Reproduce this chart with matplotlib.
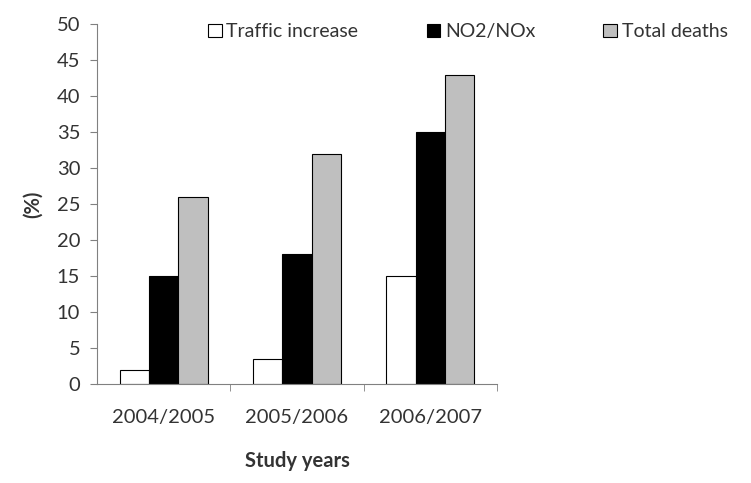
import matplotlib.pyplot as plt
import numpy as np

years = ["2004/2005", "2005/2006", "2006/2007"]
traffic = [2, 3.5, 15]
no2 = [15, 18, 35]
deaths = [26, 32, 43]

plt.rcParams['font.family'] = ['Lato', 'DejaVu Sans']
txt = "#333333"
fs = 14.5

fig = plt.figure(figsize=(7.51, 4.83), dpi=100)
ax = fig.add_axes([0.129, 0.205, 0.533, 0.745])

x = np.arange(len(years))
w = 0.22
ax.bar(x - w, traffic, w, color="white", edgecolor="black", linewidth=0.8, label="Traffic increase")
ax.bar(x, no2, w, color="black", edgecolor="black", linewidth=0.8, label="NO2/NOx")
ax.bar(x + w, deaths, w, color="#bfbfbf", edgecolor="black", linewidth=0.8, label="Total deaths")

ax.set_xlim(-0.5, 2.5)
ax.set_ylim(0, 50)
ax.set_yticks(range(0, 51, 5))
ax.set_xticks(x)
ax.set_xticklabels(years)
ax.set_xticks([0.5, 1.5, 2.5], minor=True)
ax.tick_params(axis="x", which="major", length=0, pad=18, labelsize=fs, labelcolor=txt)
ax.tick_params(axis="x", which="minor", length=5, color="#808080", direction="out")
ax.tick_params(axis="y", length=5, color="#808080", labelsize=fs, labelcolor=txt, pad=7)

for s in ["top", "right"]:
    ax.spines[s].set_visible(False)
for s in ["left", "bottom"]:
    ax.spines[s].set_color("#808080")

ax.set_ylabel("(%)", fontsize=fs, fontweight="bold", color=txt, labelpad=10)
ax.set_xlabel("Study years", fontsize=fs, fontweight="bold", color=txt, labelpad=18)

fig.legend(loc="center left", bbox_to_anchor=(0.277, 0.934), ncol=3, frameon=False,
           fontsize=14, labelcolor=txt, handlelength=0.7, handleheight=0.7,
           handletextpad=0.25, columnspacing=3.5, borderpad=0, borderaxespad=0)

fig.savefig("out.png", dpi=100)
